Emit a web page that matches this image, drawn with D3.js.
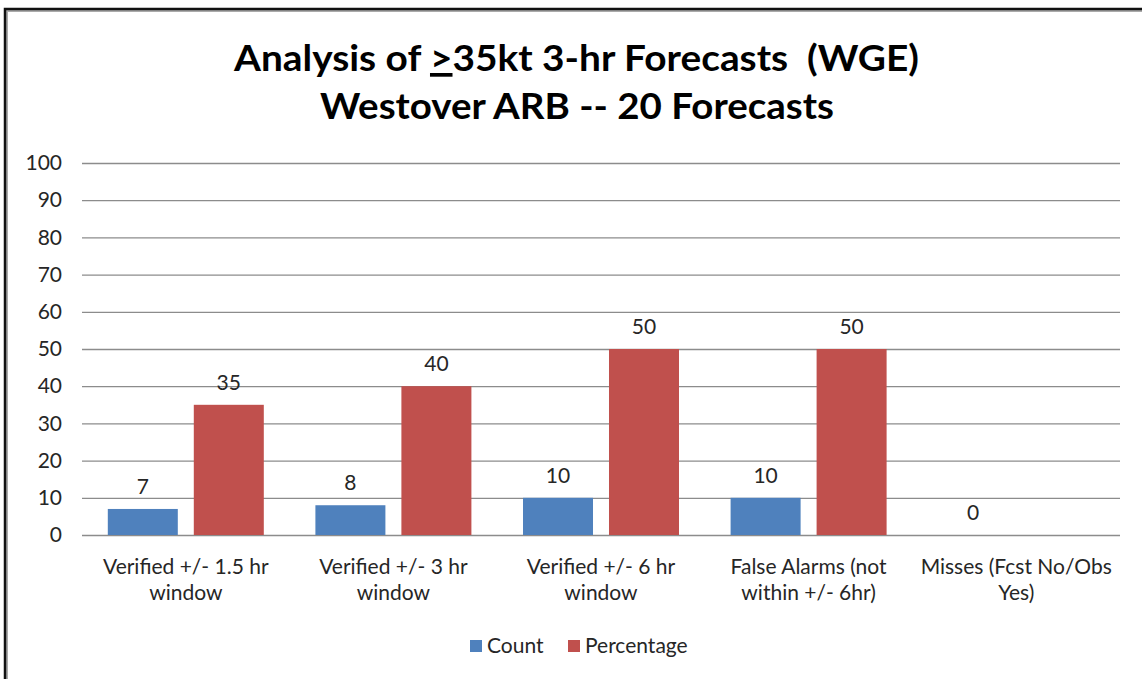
<!DOCTYPE html>
<html>
<head>
<meta charset="utf-8">
<script src="https://cdn.jsdelivr.net/npm/d3@7"></script>
<style>
  body { margin: 0; background: #fff; }
  svg text { font-family: Lato, "Open Sans", sans-serif; fill: #262626; }
</style>
</head>
<body>
<div id="chart"></div>
<script>
// Chart data
const categories = [
    "Verified +/- 1.5 hr window",
    "Verified +/- 3 hr window",
    "Verified +/- 6 hr window",
    "False Alarms (not within +/- 6hr)",
    "Misses (Fcst No/Obs Yes)"
];
const categoryLines = [
    ["Verified +/- 1.5 hr", "window"],
    ["Verified +/- 3 hr", "window"],
    ["Verified +/- 6 hr", "window"],
    ["False Alarms (not", "within +/- 6hr)"],
    ["Misses (Fcst No/Obs", "Yes)"]
];
const seriesNames = ["Count", "Percentage"];
const countValues = [7, 8, 10, 10, 0];
const percentValues = [35, 40, 50, 50, null];
const yTicks = [0, 10, 20, 30, 40, 50, 60, 70, 80, 90, 100];

const colors = { Count: "#4F81BD", Percentage: "#C0504D" };

const width = 1142, height = 679;
const plot = { left: 82, right: 1120, top: 163, bottom: 535 };
const labelSize = "21px";

const svg = d3.select("#chart").append("svg")
    .attr("width", width)
    .attr("height", height);

// Outer frame (left and top edges only are visible)
svg.append("path")
    .attr("d", `M6,${height} V10 H${width}`)
    .attr("fill", "none")
    .attr("stroke", "#aaa")
    .attr("stroke-width", 4);
svg.append("path")
    .attr("d", `M5,${height} V9 H${width}`)
    .attr("fill", "none")
    .attr("stroke", "#111")
    .attr("stroke-width", 2.5);

// Title
const title = svg.append("g").attr("font-weight", "bold");
const t1 = title.append("text")
    .attr("x", 576.5).attr("y", 71)
    .attr("text-anchor", "middle")
    .style("font-size", "37px").style("fill", "#000").style("white-space", "pre")
    .attr("textLength", 685).attr("lengthAdjust", "spacingAndGlyphs");
t1.append("tspan").text("Analysis of ");
t1.append("tspan").attr("text-decoration", "underline").text(">");
t1.append("tspan").text("35kt 3-hr Forecasts  (WGE)");
title.append("text")
    .attr("x", 577).attr("y", 119)
    .attr("text-anchor", "middle")
    .style("font-size", "37px").style("fill", "#000")
    .attr("textLength", 514).attr("lengthAdjust", "spacingAndGlyphs")
    .text("Westover ARB -- 20 Forecasts");

// Scales
const y = d3.scaleLinear().domain([0, 100]).range([plot.bottom, plot.top]);
const x0 = d3.scaleBand().domain(categories).range([plot.left, plot.right]).padding(0);
const x1 = d3.scaleBand().domain(seriesNames).range([0, x0.bandwidth()])
    .paddingInner(0.186).paddingOuter(0.3);

// Gridlines + y tick labels
const yAxis = svg.append("g")
    .attr("transform", `translate(${plot.left},0)`)
    .call(d3.axisLeft(y).tickValues(yTicks).tickSize(-(plot.right - plot.left)).tickPadding(20));
yAxis.select(".domain").remove();
yAxis.selectAll(".tick line").attr("stroke", "#8c8c8c").attr("stroke-width", 1.3);
yAxis.selectAll(".tick text")
    .style("font-size", labelSize)
    .style("font-family", "Lato, sans-serif")
    .attr("fill", "#262626");

// Bars
const rows = categories.map((c, i) => ({
    category: c,
    values: [
        { key: "Count", value: countValues[i] },
        { key: "Percentage", value: percentValues[i] }
    ]
}));

const groups = svg.append("g").selectAll("g")
    .data(rows)
    .enter()
    .append("g")
    .attr("transform", d => `translate(${x0(d.category)},0)`);

groups.selectAll("rect")
    .data(d => d.values.filter(v => v.value !== null))
    .enter()
    .append("rect")
    .attr("x", d => x1(d.key))
    .attr("width", x1.bandwidth())
    .attr("y", d => y(d.value))
    .attr("height", d => y(0) - y(d.value))
    .attr("fill", d => colors[d.key]);

// Value labels
groups.selectAll(".value-label")
    .data(d => d.values.filter(v => v.value !== null))
    .enter()
    .append("text")
    .attr("class", "value-label")
    .attr("x", d => x1(d.key) + x1.bandwidth() / 2)
    .attr("y", d => y(d.value) - 15)
    .attr("text-anchor", "middle")
    .style("font-size", labelSize)
    .text(d => d.value);

// Category labels
const catLabels = svg.append("g").selectAll("text")
    .data(categoryLines)
    .enter()
    .append("text")
    .attr("x", (d, i) => x0(categories[i]) + x0.bandwidth() / 2)
    .attr("y", 574)
    .attr("text-anchor", "middle")
    .style("font-size", labelSize);
catLabels.selectAll("tspan")
    .data(d => d)
    .enter()
    .append("tspan")
    .attr("x", function() { return this.parentNode.getAttribute("x"); })
    .attr("dy", (d, i) => i === 0 ? 0 : 26)
    .text(d => d);

// Legend
const legendItems = [
    { key: "Count", x: 470 },
    { key: "Percentage", x: 568 }
];
const legend = svg.append("g");
legend.selectAll("rect")
    .data(legendItems)
    .enter()
    .append("rect")
    .attr("x", d => d.x)
    .attr("y", 640)
    .attr("width", 12)
    .attr("height", 12)
    .attr("fill", d => colors[d.key]);
legend.selectAll("text")
    .data(legendItems)
    .enter()
    .append("text")
    .attr("x", d => d.x + 17)
    .attr("y", 653)
    .style("font-size", labelSize)
    .text(d => d.key);
</script>
</body>
</html>
